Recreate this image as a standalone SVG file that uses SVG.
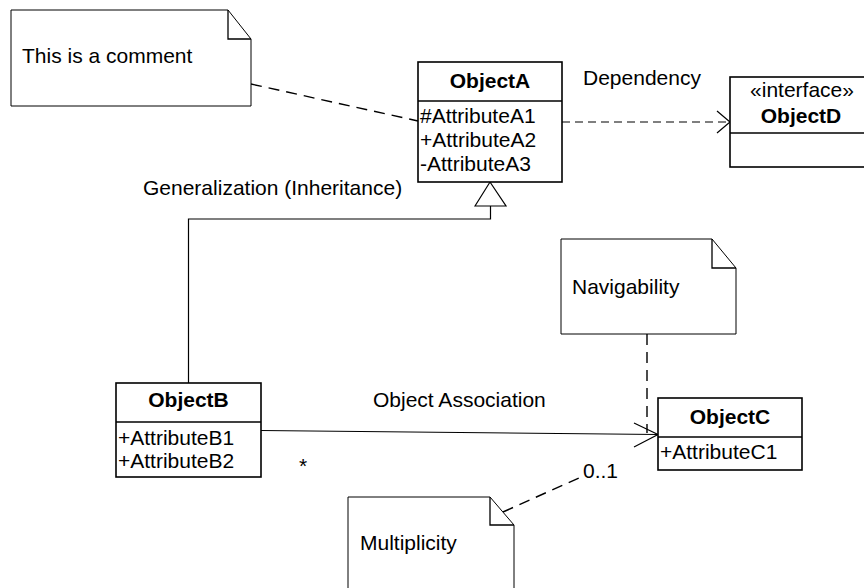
<svg xmlns="http://www.w3.org/2000/svg" width="864" height="588" viewBox="0 0 864 588">
<style>
text{font-family:"Liberation Sans",Arial,sans-serif;font-size:21px;fill:#000}
.b{font-weight:bold;text-anchor:middle}
.m{text-anchor:middle}
.box{fill:#fff;stroke:#000;stroke-width:1.6}
.note{fill:#fff;stroke:#000;stroke-width:1}
.fold{fill:none;stroke:#000;stroke-width:1.3}
.ln{fill:none;stroke:#000;stroke-width:1.2}
.dl{fill:none;stroke:#000;stroke-width:1.4;stroke-dasharray:11 7}
.dd{fill:none;stroke:#000;stroke-width:1.1;stroke-dasharray:8 5}
</style>
<rect width="864" height="588" fill="#fff"/>
<g id="connectors">
<path class="dl" d="M251 84 L418 121"/>
<path class="dd" d="M562 122 L729 122"/>
<path class="ln" d="M717 111 L730 122 L717 133"/>
<path class="ln" d="M475 206 L490 182 L506 206 Z" style="fill:#fff"/>
<path class="ln" d="M490.5 206 V219 H188.5 V383"/>
<path class="ln" d="M261 430.5 L658 434.5"/>
<path class="ln" d="M634 423 L658 434.5 L634 447"/>
<path class="dl" d="M647 334 V433"/>
<path class="dl" d="M503 512 L581 477"/>
</g>
<g id="comment">
<path class="note" d="M11 10 H228 L251 39 V106 H11 Z"/>
<path class="fold" d="M228 10 V39 H251"/>
<text x="22" y="63">This is a comment</text>
</g>
<g id="objectA">
<rect class="box" x="418" y="62" width="144" height="120"/>
<line class="box" x1="418" y1="101" x2="562" y2="101"/>
<text class="b" x="490" y="88">ObjectA</text>
<text x="420" y="123">#AttributeA1</text>
<text x="420" y="147">+AttributeA2</text>
<text x="420" y="171">-AttributeA3</text>
</g>
<g id="objectD">
<rect class="box" x="730" y="77" width="142" height="90"/>
<line class="box" x1="730" y1="133" x2="872" y2="133"/>
<text class="m" x="802" y="97">«interface»</text>
<text class="b" x="801" y="123">ObjectD</text>
</g>
<g id="objectB">
<rect class="box" x="116" y="383" width="145" height="94"/>
<line class="box" x1="116" y1="422" x2="261" y2="422"/>
<text class="b" x="188.5" y="407">ObjectB</text>
<text x="118" y="445">+AttributeB1</text>
<text x="118" y="468">+AttributeB2</text>
</g>
<g id="objectC">
<rect class="box" x="658" y="398" width="144" height="72"/>
<line class="box" x1="658" y1="437" x2="802" y2="437"/>
<text class="b" x="730" y="424">ObjectC</text>
<text x="660" y="459">+AttributeC1</text>
</g>
<g id="navigability">
<path class="note" d="M561 239 H712 L736 268 V334 H561 Z"/>
<path class="fold" d="M712 239 V268 H736"/>
<text x="572" y="294">Navigability</text>
</g>
<g id="multiplicity">
<path class="note" d="M348 497 H490 L514 525 V600 H348 Z"/>
<path class="fold" d="M490 497 V525 H514"/>
<text x="360" y="550">Multiplicity</text>
</g>
<g id="labels">
<text x="583" y="85">Dependency</text>
<text x="143" y="195">Generalization (Inheritance)</text>
<text x="373" y="407">Object Association</text>
<text x="299" y="473">*</text>
<text x="583" y="478">0..1</text>
</g>
</svg>
